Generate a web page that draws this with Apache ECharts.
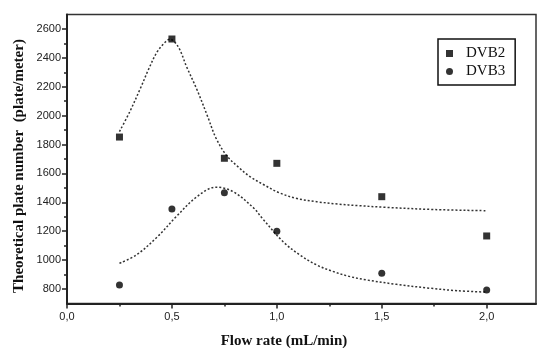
<!DOCTYPE html>
<html>
<head>
<meta charset="utf-8">
<script src="https://cdn.jsdelivr.net/npm/echarts@6/dist/echarts.min.js"></script>
<style>
  html, body { margin: 0; padding: 0; background: #fff; }
  #chart { width: 537px; height: 348px; }
</style>
</head>
<body>
<div id="chart"></div>
<script>
// measured points
const dvb2 = [[0.25, 1852], [0.5, 2531], [0.75, 1705], [1.0, 1670], [1.5, 1439], [2.0, 1167]];
const dvb3 = [[0.25, 828], [0.5, 1354], [0.75, 1467], [1.0, 1199], [1.5, 909], [2.0, 793]];

// dotted fit curves
const dvb2Fit = [[0.25, 1890], [0.30, 2030], [0.35, 2190], [0.39, 2325], [0.43, 2443], [0.47, 2512],
  [0.49, 2530], [0.53, 2477], [0.57, 2339], [0.62, 2178], [0.67, 1995], [0.71, 1845], [0.76, 1725],
  [0.82, 1640], [0.87, 1580], [0.94, 1520], [1.01, 1467], [1.09, 1428], [1.19, 1404], [1.29, 1388],
  [1.39, 1377], [1.51, 1366], [1.75, 1350], [2.0, 1342]];
const dvb3Fit = [[0.25, 978], [0.33, 1035], [0.43, 1160], [0.52, 1300], [0.62, 1440], [0.71, 1505],
  [0.79, 1475], [0.89, 1360], [0.93, 1290], [1.03, 1127], [1.11, 1035], [1.19, 966], [1.27, 920],
  [1.35, 885], [1.43, 862], [1.57, 832], [1.73, 805], [1.86, 788], [2.0, 778]];

const xMajor = [0, 0.5, 1.0, 1.5, 2.0];
const xMinor = [0.25, 0.75, 1.25, 1.75];
const yMajor = [800, 1000, 1200, 1400, 1600, 1800, 2000, 2200, 2400, 2600];
const yMinor = [900, 1100, 1300, 1500, 1700, 1900, 2100, 2300, 2500];

const chart = echarts.init(document.getElementById('chart'));
const axisCol = '#222';
const xRange = { min: 0, max: 2.235 };
const yRange = { min: 700, max: 2700 };

chart.setOption({
  animation: false,
  grid: {
    left: 67, right: 1, top: 14.6, bottom: 44.6,
    show: true, borderColor: '#333', borderWidth: 1.5
  },
  legend: {
    data: ['DVB2', 'DVB3'],
    orient: 'vertical',
    left: 438, top: 39,
    padding: [7, 10, 6, 8],
    itemGap: 3,
    itemWidth: 7, itemHeight: 7,
    borderColor: '#111', borderWidth: 1.5,
    textStyle: { fontFamily: 'Liberation Serif', fontSize: 15, color: '#111', padding: [0, 0, 0, 8] }
  },
  xAxis: [
    {
      type: 'value', ...xRange, position: 'bottom',
      axisLine: { onZero: false, lineStyle: { color: axisCol, width: 2 } },
      axisTick: { customValues: xMajor, length: 5, lineStyle: { color: axisCol, width: 1.5 } },
      axisLabel: {
        customValues: xMajor, margin: 8, color: '#222', fontSize: 11, fontFamily: 'Liberation Sans',
        formatter: v => v.toFixed(1).replace('.', ',')
      },
      splitLine: { show: false }
    },
    {
      type: 'value', ...xRange, position: 'bottom',
      axisLine: { show: false, onZero: false },
      axisTick: { customValues: xMinor, length: 3, lineStyle: { color: axisCol, width: 1.5 } },
      axisLabel: { show: false },
      splitLine: { show: false }
    }
  ],
  yAxis: [
    {
      type: 'value', ...yRange, position: 'left',
      axisLine: { show: true, onZero: false, lineStyle: { color: axisCol, width: 2 } },
      axisTick: { show: true, customValues: yMajor, length: 5, lineStyle: { color: axisCol, width: 1.5 } },
      axisLabel: {
        customValues: yMajor, margin: 6, color: '#222', fontSize: 11, fontFamily: 'Liberation Sans',
        formatter: v => String(v)
      },
      splitLine: { show: false }
    },
    {
      type: 'value', ...yRange, position: 'left',
      axisLine: { show: false, onZero: false },
      axisTick: { show: true, customValues: yMinor, length: 3, lineStyle: { color: axisCol, width: 1.5 } },
      axisLabel: { show: false },
      splitLine: { show: false }
    }
  ],
  series: [
    {
      name: 'DVB2 fit', type: 'line', data: dvb2Fit, smooth: 0.35,
      showSymbol: false, silent: true,
      lineStyle: { color: '#333', width: 1.5, type: [2, 2] }, z: 1
    },
    {
      name: 'DVB3 fit', type: 'line', data: dvb3Fit, smooth: 0.35,
      showSymbol: false, silent: true,
      lineStyle: { color: '#333', width: 1.5, type: [2, 2] }, z: 1
    },
    {
      name: 'DVB2', type: 'scatter', data: dvb2, symbol: 'rect', symbolSize: 7,
      itemStyle: { color: '#000' }, z: 3
    },
    {
      name: 'DVB3', type: 'scatter', data: dvb3, symbol: 'circle', symbolSize: 7,
      itemStyle: { color: '#000' }, z: 3
    }
  ],
  graphic: [
    {
      type: 'text', x: 284, y: 341,
      style: {
        text: 'Flow rate (mL/min)', fill: '#111',
        font: 'bold 15px "Liberation Serif"', textAlign: 'center', textVerticalAlign: 'middle'
      }
    },
    {
      type: 'text', x: 19, y: 166, rotation: Math.PI / 2,
      style: {
        text: 'Theoretical plate number  (plate/meter)', fill: '#111',
        font: 'bold 15px "Liberation Serif"', textAlign: 'center', textVerticalAlign: 'middle'
      }
    }
  ]
});
</script>
</body>
</html>
